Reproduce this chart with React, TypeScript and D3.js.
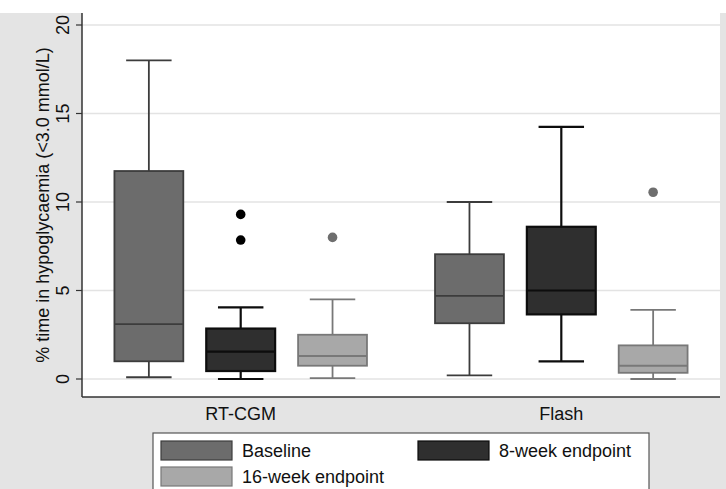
import React, { useEffect } from "react";
import * as d3 from "d3";

// groups on the x axis, and the three time points inside each group
const groups = ["RT-CGM", "Flash"];
const series = ["Baseline", "8-week endpoint", "16-week endpoint"];

// box statistics, one value per [group][series]
const lowWhisker = [
  [0.1, 0.0, 0.05],
  [0.2, 1.0, 0.0],
];
const q1 = [
  [1.0, 0.45, 0.75],
  [3.15, 3.65, 0.35],
];
const median = [
  [3.1, 1.55, 1.3],
  [4.7, 5.0, 0.75],
];
const q3 = [
  [11.75, 2.85, 2.5],
  [7.05, 8.6, 1.9],
];
const highWhisker = [
  [18.0, 4.05, 4.5],
  [10.0, 14.25, 3.9],
];
// outliers: [group, series, value]
const outliers: [number, number, number][] = [
  [0, 1, 9.3],
  [0, 1, 7.85],
  [0, 2, 8.0],
  [1, 2, 10.55],
];
const yTicks = [0, 5, 10, 15, 20];

const fills = ["#6c6c6c", "#2f2f2f", "#a8a8a8"];
const strokes = ["#3c3c3c", "#0d0d0d", "#787878"];
const dotFill = ["#6a6a6a", "#000000", "#6e6e6e"];

const W = 726;
const H = 489;
const plot = { left: 82, right: 720, top: 13, bottom: 397 };
const font = "'Liberation Sans', Arial, Helvetica, sans-serif";

export default function App() {
  useEffect(() => {
    document.body.style.margin = "0";
  }, []);

  const y = d3.scaleLinear().domain([0, 20]).range([379, 25]);
  const x0 = d3
    .scaleBand<string>()
    .domain(groups)
    .range([plot.left, plot.right])
    .paddingInner(0.1)
    .paddingOuter(0.045);
  const x1 = d3
    .scaleBand<string>()
    .domain(series)
    .range([0, x0.bandwidth()])
    .paddingInner(0.25)
    .paddingOuter(0.196);
  const bw = x1.bandwidth();
  const capW = bw * 0.66;

  const boxes = groups.flatMap((g, gi) =>
    series.map((s, si) => {
      const left = (x0(g) ?? 0) + (x1(s) ?? 0);
      return { gi, si, left, cx: left + bw / 2 };
    })
  );

  return (
    <svg width={W} height={H} style={{ display: "block", fontFamily: font }}>
      <rect x={0} y={0} width={W} height={H} fill="#ffffff" />
      <rect x={0} y={plot.top} width={W} height={H - plot.top} fill="#e4e4e4" />
      <rect
        x={plot.left}
        y={plot.top}
        width={plot.right - plot.left}
        height={plot.bottom - plot.top}
        fill="#ffffff"
      />

      {/* gridlines */}
      {yTicks.map((t) => (
        <line
          key={"g" + t}
          x1={plot.left}
          x2={plot.right}
          y1={y(t)}
          y2={y(t)}
          stroke="#e3e3e3"
          strokeWidth={1.5}
        />
      ))}

      {/* axes */}
      <line x1={plot.left} x2={plot.left} y1={plot.top} y2={plot.bottom} stroke="#333" strokeWidth={1.5} />
      <line x1={plot.left} x2={plot.right} y1={plot.bottom} y2={plot.bottom} stroke="#333" strokeWidth={1.5} />
      {yTicks.map((t) => (
        <g key={"t" + t}>
          <line x1={plot.left - 6} x2={plot.left} y1={y(t)} y2={y(t)} stroke="#333" strokeWidth={1.2} />
          <text
            transform={`translate(63,${y(t)}) rotate(-90)`}
            textAnchor="middle"
            dy="0.36em"
            fontSize={18}
            fill="#111"
          >
            {t}
          </text>
        </g>
      ))}
      <text
        transform={`translate(43,${(plot.top + plot.bottom) / 2}) rotate(-90)`}
        textAnchor="middle"
        dy="0.36em"
        fontSize={18}
        fill="#111"
      >
        % time in hypoglycaemia (&lt;3.0 mmol/L)
      </text>
      {groups.map((g) => (
        <text
          key={g}
          x={(x0(g) ?? 0) + x0.bandwidth() / 2}
          y={420}
          textAnchor="middle"
          fontSize={18}
          fill="#111"
        >
          {g}
        </text>
      ))}

      {/* boxes */}
      {boxes.map(({ gi, si, left, cx }) => {
        const st = strokes[si];
        const sw = si === 1 ? 2.2 : 1.8;
        return (
          <g key={gi + "-" + si}>
            <line x1={cx} x2={cx} y1={y(highWhisker[gi][si])} y2={y(q3[gi][si])} stroke={st} strokeWidth={sw} />
            <line x1={cx} x2={cx} y1={y(q1[gi][si])} y2={y(lowWhisker[gi][si])} stroke={st} strokeWidth={sw} />
            <line
              x1={cx - capW / 2}
              x2={cx + capW / 2}
              y1={y(highWhisker[gi][si])}
              y2={y(highWhisker[gi][si])}
              stroke={st}
              strokeWidth={sw}
            />
            <line
              x1={cx - capW / 2}
              x2={cx + capW / 2}
              y1={y(lowWhisker[gi][si])}
              y2={y(lowWhisker[gi][si])}
              stroke={st}
              strokeWidth={sw}
            />
            <rect
              x={left}
              y={y(q3[gi][si])}
              width={bw}
              height={y(q1[gi][si]) - y(q3[gi][si])}
              fill={fills[si]}
              stroke={st}
              strokeWidth={sw}
            />
            <line
              x1={left}
              x2={left + bw}
              y1={y(median[gi][si])}
              y2={y(median[gi][si])}
              stroke={st}
              strokeWidth={sw}
            />
          </g>
        );
      })}
      {outliers.map(([gi, si, v], i) => (
        <circle
          key={"o" + i}
          cx={(x0(groups[gi]) ?? 0) + (x1(series[si]) ?? 0) + bw / 2}
          cy={y(v)}
          r={4.8}
          fill={dotFill[si]}
        />
      ))}

      {/* legend */}
      <rect x={153} y={433} width={496} height={70} fill="#ffffff" stroke="#555" strokeWidth={1.2} />
      {series.map((s, si) => {
        const col = si === 1 ? 1 : 0;
        const row = si === 2 ? 1 : 0;
        const sx = col === 0 ? 161 : 418;
        const sy = 441 + row * 26;
        return (
          <g key={"l" + s}>
            <rect x={sx} y={sy} width={71} height={19} fill={fills[si]} stroke={strokes[si]} strokeWidth={1.2} />
            <text x={sx + 81} y={sy + 16} fontSize={18} fill="#111">
              {s}
            </text>
          </g>
        );
      })}
    </svg>
  );
}
